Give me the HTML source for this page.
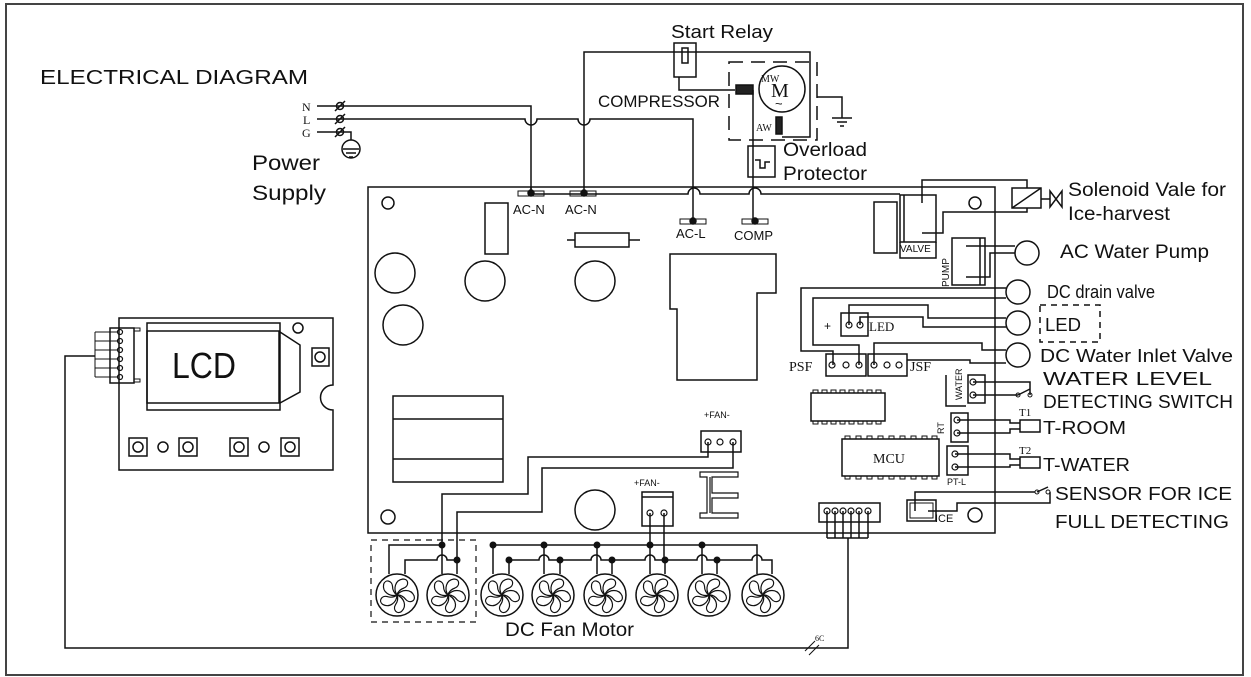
<!DOCTYPE html>
<html><head><meta charset="utf-8"><style>
html,body{margin:0;padding:0;background:#fff}
svg{display:block}
text{font-family:"Liberation Sans",sans-serif;fill:#111}
.s{font-family:"Liberation Serif",serif}
</style></head><body>
<svg width="1251" height="677" viewBox="0 0 1251 677" xmlns="http://www.w3.org/2000/svg">
<defs>
<g id="fan"><circle r="21" fill="#fff" stroke="#111" stroke-width="1.5"/>
<g fill="none" stroke="#111" stroke-width="1.2">
<path d="M0 0 C-4 -6 -2 -15 6 -16 C12 -16 12 -9 7 -7 C4 -6 1 -4 0 0"/>
<path d="M0 0 C-4 -6 -2 -15 6 -16 C12 -16 12 -9 7 -7 C4 -6 1 -4 0 0" transform="rotate(72)"/>
<path d="M0 0 C-4 -6 -2 -15 6 -16 C12 -16 12 -9 7 -7 C4 -6 1 -4 0 0" transform="rotate(144)"/>
<path d="M0 0 C-4 -6 -2 -15 6 -16 C12 -16 12 -9 7 -7 C4 -6 1 -4 0 0" transform="rotate(216)"/>
<path d="M0 0 C-4 -6 -2 -15 6 -16 C12 -16 12 -9 7 -7 C4 -6 1 -4 0 0" transform="rotate(288)"/>
</g></g>
</defs>
<g fill="none" stroke="#111" stroke-width="1.5">
<rect x="6" y="4" width="1237" height="671" stroke="#444" stroke-width="2"/>
<rect x="368" y="187" width="627" height="346"/>
<path d="M317 106 H531 V193"/>
<path d="M317 119 H525 a6 6 0 0 0 12 0 H578 a6 6 0 0 0 12 0 H693 V222"/>
<path d="M317 132 H351 V140"/>
<circle cx="351" cy="149" r="9"/>
<path d="M343 149 H359 M346 153 H356 M349 157 H353"/>
<path d="M335 111 l10 -10 M335 124 l10 -10 M335 137 l10 -10"/>
<circle cx="340" cy="106" r="3.5"/><circle cx="340" cy="119" r="3.5"/><circle cx="340" cy="132" r="3.5"/>
<path d="M584 193 V52 H810 V137 H782"/>
<rect x="674" y="43" width="22" height="34"/>
<rect x="682" y="48" width="6" height="15"/>
<path d="M679 77 V90 H735"/>
<rect x="729" y="62" width="88" height="78" stroke-dasharray="14 8"/>
<circle cx="782" cy="89" r="23"/>
<rect x="736" y="85" width="17" height="9" fill="#222"/>
<rect x="776" y="117" width="6" height="17" fill="#222"/>
<path d="M753 90 V222"/>
<rect x="748" y="146" width="27" height="31"/>
<path d="M755 160 H760 V168 H765 V162 H770"/>
<path d="M817 97 H842 V118 M832 118 H852 M837 122 H847 M840 126 H844"/>
<path d="M531 194 H688 a6 6 0 0 1 12 0 H749 a6 6 0 0 1 12 0 H900"/>
<path d="M531 187 V194"/>
<g stroke-width="1"><rect x="518" y="191" width="26" height="5"/><rect x="570" y="191" width="26" height="5"/><rect x="680" y="219" width="26" height="5"/><rect x="742" y="219" width="26" height="5"/></g>
<g fill="#111"><circle cx="531" cy="193" r="3"/><circle cx="584" cy="193" r="3"/><circle cx="693" cy="221" r="3"/><circle cx="755" cy="221" r="3"/></g>
<circle cx="388" cy="203" r="6"/>
<rect x="485" y="203" width="23" height="51"/>
<rect x="575" y="233" width="54" height="14"/><path d="M567 240 H575 M629 240 H640"/>
<circle cx="395" cy="273" r="20"/><circle cx="485" cy="281" r="20"/><circle cx="595" cy="281" r="20"/><circle cx="403" cy="325" r="20"/>
<path d="M670 254 H776 V293 H757 V380 H677 V309 H670 Z"/>
<rect x="393" y="396" width="110" height="86"/><path d="M393 419 H503 M393 459 H503"/>
<circle cx="388" cy="517" r="7"/>
<circle cx="595" cy="510" r="20"/>
<rect x="874" y="202" width="23" height="51"/>
<rect x="900" y="195" width="36" height="47"/><path d="M904 195 V242"/>
<path d="M900 242 V258 H936 V242"/>
<path d="M922 203 V180 H1027 V188"/>
<path d="M922 233 H943 V212 H1027 V208"/>
<rect x="1012" y="188" width="29" height="20"/><path d="M1012 208 L1041 188"/>
<path d="M1041 199 H1050 M1050 191 V207 L1062 191 V207 Z"/>
<circle cx="975" cy="203" r="6"/>
<rect x="952" y="238" width="33" height="47"/><path d="M980 238 V285"/>
<path d="M966 246 H1015 M966 277 H990 V253 H1015"/>
<circle cx="1027" cy="253" r="12"/>
<circle cx="1018" cy="292" r="12"/><circle cx="1018" cy="323" r="12"/><circle cx="1018" cy="355" r="12"/>
<rect x="1040" y="305" width="60" height="37" stroke-dasharray="6 5"/>
<path d="M1006 288 H801 V351 H833 V365"/>
<path d="M1006 298 H813 V345 H859 V365"/>
<path d="M849 325 V305 H928 V318 H1006"/>
<path d="M860 325 V317 H923 V327 H1006"/>
<path d="M874 365 V343 H982 V350 H1006"/>
<path d="M907 360 H970 V363 H1006"/>
<rect x="841" y="313" width="27" height="23"/>
<rect x="826" y="354" width="40" height="22"/><rect x="868" y="354" width="39" height="22"/>
<g stroke-width="1.2"><circle cx="849" cy="325" r="3"/><circle cx="860" cy="325" r="3"/>
<circle cx="832" cy="365" r="3"/><circle cx="846" cy="365" r="3"/><circle cx="859" cy="365" r="3"/>
<circle cx="874" cy="365" r="3"/><circle cx="887" cy="365" r="3"/><circle cx="899" cy="365" r="3"/></g>
<rect x="811" y="393" width="74" height="28"/>
<path d="M813 393 v-3 h5 v3 M822 393 v-3 h5 v3 M831 393 v-3 h5 v3 M840 393 v-3 h5 v3 M849 393 v-3 h5 v3 M858 393 v-3 h5 v3 M867 393 v-3 h5 v3 M876 393 v-3 h5 v3" stroke-width="1"/>
<path d="M813 421 v3 h5 v-3 M822 421 v3 h5 v-3 M831 421 v3 h5 v-3 M840 421 v3 h5 v-3 M849 421 v3 h5 v-3 M858 421 v3 h5 v-3 M867 421 v3 h5 v-3 M876 421 v3 h5 v-3" stroke-width="1"/>
<rect x="842" y="439" width="97" height="37"/>
<path d="M845 439 v-3 h5 v3 M856 439 v-3 h5 v3 M867 439 v-3 h5 v3 M878 439 v-3 h5 v3 M889 439 v-3 h5 v3 M900 439 v-3 h5 v3 M911 439 v-3 h5 v3 M922 439 v-3 h5 v3 M932 439 v-3 h5 v3" stroke-width="1"/>
<path d="M845 476 v3 h5 v-3 M856 476 v3 h5 v-3 M867 476 v3 h5 v-3 M878 476 v3 h5 v-3 M889 476 v3 h5 v-3 M900 476 v3 h5 v-3 M911 476 v3 h5 v-3 M922 476 v3 h5 v-3 M932 476 v3 h5 v-3" stroke-width="1"/>
<rect x="968" y="375" width="17" height="28"/>
<path d="M946 375 V406 H966"/>
<path d="M973 382 H1030 V395 M973 395 H1018 M1018 395 L1030 389"/>
<circle cx="1018" cy="395" r="2" stroke-width="1"/><circle cx="1030" cy="395" r="2" stroke-width="1"/>
<rect x="951" y="413" width="17" height="29"/>
<path d="M957 420 H1010 V423 H1020 M957 433 H1010 V429 H1020"/>
<rect x="1020" y="420" width="20" height="12"/>
<rect x="947" y="446" width="21" height="29"/>
<path d="M955 454 H1010 V459 H1020 M955 467 H1010 V465 H1020"/>
<rect x="1020" y="457" width="20" height="11"/>
<g stroke-width="1.2"><circle cx="973" cy="382" r="3"/><circle cx="973" cy="395" r="3"/><circle cx="957" cy="420" r="3"/><circle cx="957" cy="433" r="3"/><circle cx="955" cy="454" r="3"/><circle cx="955" cy="467" r="3"/></g>
<rect x="907" y="500" width="29" height="21"/><rect x="910" y="503" width="23" height="15" stroke-width="1"/>
<path d="M915 511 V492 H1035 M928 511 H957 V503 H1050 V492"/>
<path d="M1037 492 L1048 487"/>
<circle cx="1037" cy="492" r="2" stroke-width="1"/><circle cx="1048" cy="492" r="2" stroke-width="1"/>
<circle cx="975" cy="515" r="7"/>
<rect x="819" y="503" width="61" height="19"/>
<g stroke-width="1.2"><circle cx="827" cy="511" r="3"/><circle cx="835" cy="511" r="3"/><circle cx="843" cy="511" r="3"/><circle cx="851" cy="511" r="3"/><circle cx="859" cy="511" r="3"/><circle cx="868" cy="511" r="3"/></g>
<path d="M827 511 V538 M835 511 V538 M843 511 V538 M851 511 V538 M859 511 V538 M868 511 V538 M827 538 H868"/>
<path d="M848 538 V648 H65 V356 H95"/>
<path d="M805 651 l10 -10 M809 655 l10 -10" stroke-width="1"/>
<rect x="701" y="431" width="40" height="21"/>
<g stroke-width="1.2"><circle cx="708" cy="442" r="3"/><circle cx="720" cy="442" r="3"/><circle cx="733" cy="442" r="3"/></g>
<path d="M708 442 V457 H528 V494 H442 V545"/>
<path d="M733 442 V468 H542 V512 H457 V560"/>
<rect x="642" y="492" width="31" height="34"/><path d="M642 497 H673"/>
<g stroke-width="1.2"><circle cx="650" cy="513" r="3"/><circle cx="664" cy="513" r="3"/></g>
<path d="M650 513 V545 M664 513 V560"/>
<path d="M700 472 H738 V477 H712 V493 H738 V498 H712 V513 H738 V518 H700 V513 H707 V477 H700 Z M710 477 V513" stroke-width="1.2"/>
<rect x="371" y="540" width="105" height="82" stroke-dasharray="6 5" stroke-width="1.2"/>
<path d="M389 574 V545 H442 M405 574 V560 H437 a5 5 0 0 1 10 0 H457 V574"/>
<path d="M442 545 V574"/>
<path d="M493 574 V545 H757 V574 M509 574 V560 H539 a5 5 0 0 1 10 0 H591 a5 5 0 0 1 10 0 H645 a5 5 0 0 1 10 0 H697 a5 5 0 0 1 10 0 H752 a5 5 0 0 1 10 0 H772 V574"/>
<path d="M544 545 V574 M560 560 V574 M597 545 V574 M612 560 V574 M650 545 V574 M665 560 V574 M702 545 V574 M717 560 V574"/>
</g>
<g fill="#111"><circle cx="442" cy="545" r="3.5"/><circle cx="457" cy="560" r="3.5"/><circle cx="493" cy="545" r="3.5"/><circle cx="509" cy="560" r="3.5"/><circle cx="544" cy="545" r="3.5"/><circle cx="560" cy="560" r="3.5"/><circle cx="597" cy="545" r="3.5"/><circle cx="612" cy="560" r="3.5"/><circle cx="650" cy="545" r="3.5"/><circle cx="665" cy="560" r="3.5"/><circle cx="702" cy="545" r="3.5"/><circle cx="717" cy="560" r="3.5"/></g>
<use href="#fan" x="397" y="595"/><use href="#fan" x="448" y="595"/><use href="#fan" x="502" y="595"/><use href="#fan" x="553" y="595"/><use href="#fan" x="605" y="595"/><use href="#fan" x="657" y="595"/><use href="#fan" x="709" y="595"/><use href="#fan" x="763" y="595"/>
<g fill="none" stroke="#111" stroke-width="1.5">
<path d="M119 318 H333 V385 A12 12 0 0 0 333 410 V470 H119 Z"/>
<rect x="110" y="328" width="24" height="55"/>
<path d="M134 328 H140 V331 H134 M134 379 H140 V382 H134" stroke-width="1"/>
<path d="M95 332 V377 M95 332 H117 M95 341 H117 M95 350 H117 M95 359 H117 M95 368 H117 M95 377 H117" stroke-width="1"/>
<g stroke-width="1.2"><circle cx="120" cy="332" r="2.5"/><circle cx="120" cy="341" r="2.5"/><circle cx="120" cy="350" r="2.5"/><circle cx="120" cy="359" r="2.5"/><circle cx="120" cy="368" r="2.5"/><circle cx="120" cy="377" r="2.5"/></g>
<rect x="147" y="323" width="133" height="87"/><rect x="147" y="331" width="132" height="72"/>
<path d="M280 332 L300 345 V392 L280 403"/>
<circle cx="298" cy="328" r="5"/>
<rect x="312" y="348" width="17" height="18"/><circle cx="320" cy="357" r="5"/>
<rect x="129" y="438" width="18" height="18"/><circle cx="138" cy="447" r="5"/>
<circle cx="163" cy="447" r="5"/>
<rect x="179" y="438" width="18" height="18"/><circle cx="188" cy="447" r="5"/>
<rect x="230" y="438" width="18" height="18"/><circle cx="239" cy="447" r="5"/>
<circle cx="264" cy="447" r="5"/>
<rect x="281" y="438" width="18" height="18"/><circle cx="290" cy="447" r="5"/>
</g>
<g lengthAdjust="spacingAndGlyphs">
<text x="40" y="84" font-size="20" textLength="268" lengthAdjust="spacingAndGlyphs">ELECTRICAL DIAGRAM</text>
<text x="252" y="170" font-size="21" textLength="68" lengthAdjust="spacingAndGlyphs">Power</text>
<text x="252" y="200" font-size="21" textLength="74" lengthAdjust="spacingAndGlyphs">Supply</text>
<text x="671" y="38" font-size="18" textLength="102" lengthAdjust="spacingAndGlyphs">Start Relay</text>
<text x="598" y="107" font-size="17" textLength="122" lengthAdjust="spacingAndGlyphs">COMPRESSOR</text>
<text x="783" y="156" font-size="19" textLength="84" lengthAdjust="spacingAndGlyphs">Overload</text>
<text x="783" y="180" font-size="19" textLength="84" lengthAdjust="spacingAndGlyphs">Protector</text>
<text x="1068" y="196" font-size="19" textLength="158" lengthAdjust="spacingAndGlyphs">Solenoid Vale for</text>
<text x="1068" y="220" font-size="19" textLength="102" lengthAdjust="spacingAndGlyphs">Ice-harvest</text>
<text x="1060" y="258" font-size="19" textLength="149" lengthAdjust="spacingAndGlyphs">AC Water Pump</text>
<text x="1047" y="298" font-size="18" textLength="108" lengthAdjust="spacingAndGlyphs">DC drain valve</text>
<text x="1045" y="331" font-size="18" textLength="36" lengthAdjust="spacingAndGlyphs">LED</text>
<text x="1040" y="362" font-size="18" textLength="193" lengthAdjust="spacingAndGlyphs">DC Water Inlet Valve</text>
<text x="1043" y="385" font-size="18" textLength="169" lengthAdjust="spacingAndGlyphs">WATER LEVEL</text>
<text x="1043" y="408" font-size="18" textLength="190" lengthAdjust="spacingAndGlyphs">DETECTING SWITCH</text>
<text x="1043" y="434" font-size="18" textLength="83" lengthAdjust="spacingAndGlyphs">T-ROOM</text>
<text x="1043" y="471" font-size="18" textLength="87" lengthAdjust="spacingAndGlyphs">T-WATER</text>
<text x="1055" y="500" font-size="18" textLength="177" lengthAdjust="spacingAndGlyphs">SENSOR FOR ICE</text>
<text x="1055" y="528" font-size="18" textLength="174" lengthAdjust="spacingAndGlyphs">FULL DETECTING</text>
<text x="505" y="636" font-size="19" textLength="129" lengthAdjust="spacingAndGlyphs">DC Fan Motor</text>
</g>
<text class="s" x="302" y="111" font-size="12">N</text>
<text class="s" x="303" y="124" font-size="12">L</text>
<text class="s" x="302" y="137" font-size="12">G</text>
<text class="s" x="761" y="82" font-size="10">MW</text>
<text class="s" x="756" y="131" font-size="10">AW</text>
<text class="s" x="771" y="97" font-size="20">M</text>
<text x="775" y="108" font-size="13">~</text>
<text x="513" y="214" font-size="13">AC-N</text>
<text x="565" y="214" font-size="13">AC-N</text>
<text x="676" y="238" font-size="13">AC-L</text>
<text x="734" y="240" font-size="13">COMP</text>
<text x="900" y="252" font-size="10">VALVE</text>
<text x="949" y="287" font-size="10" transform="rotate(-90 949 287)">PUMP</text>
<text x="824" y="330" font-size="12">+</text>
<text class="s" x="869" y="331" font-size="13">LED</text>
<text class="s" x="789" y="371" font-size="14">PSF</text>
<text class="s" x="910" y="371" font-size="14">JSF</text>
<text x="962" y="400" font-size="9" transform="rotate(-90 962 400)">WATER</text>
<text x="944" y="434" font-size="9" transform="rotate(-90 944 434)">RT</text>
<text x="947" y="485" font-size="9">PT-L</text>
<text class="s" x="1019" y="416" font-size="11">T1</text>
<text class="s" x="1019" y="454" font-size="11">T2</text>
<text class="s" x="873" y="463" font-size="14">MCU</text>
<text x="935" y="522" font-size="11">ICE</text>
<text x="704" y="418" font-size="9">+FAN-</text>
<text x="634" y="486" font-size="9">+FAN-</text>
<text class="s" x="815" y="641" font-size="8">6C</text>
<text x="172" y="378" font-size="36" textLength="64" lengthAdjust="spacingAndGlyphs">LCD</text>
</svg>
</body></html>
